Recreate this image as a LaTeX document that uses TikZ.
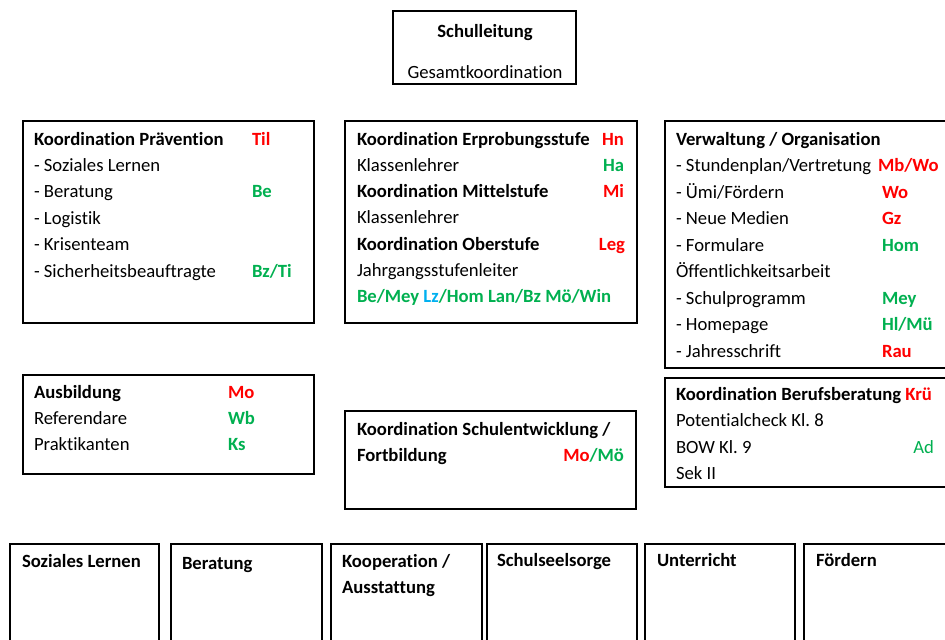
\documentclass[tikz,border=0pt]{standalone}
\usepackage{fontspec}
\setmainfont{Carlito}[Ligatures={NoCommon}]
\usetikzlibrary{fit}
\definecolor{kred}{HTML}{FF0000}
\definecolor{kgreen}{HTML}{00B050}
\definecolor{kblue}{HTML}{00B0F0}
\frenchspacing
\begin{document}
\frenchspacing
\begin{tikzpicture}[x=0.75pt,y=-0.75pt,
  box/.style={draw=black, line width=1.7pt, inner sep=0pt, outer sep=0pt},
  t/.style={anchor=base west, inner sep=0pt, outer sep=0pt, font=\fontsize{14}{17}\selectfont},
  tr/.style={anchor=base east, inner sep=0pt, outer sep=0pt, font=\fontsize{14}{17}\selectfont},
  tc/.style={anchor=base, inner sep=0pt, outer sep=0pt, font=\fontsize{14}{17}\selectfont},
  rd/.style={text=kred, font=\fontsize{14}{17}\selectfont\bfseries},
  gr/.style={text=kgreen, font=\fontsize{14}{17}\selectfont\bfseries}]
\fill[white] (0,0) rectangle (945,639);
\clip (0,0) rectangle (945,639);
% boxes
\node[box, fit={(393,11) (576,84)}] (sl) {};
\node[box, fit={(23,121) (314,323)}] (prae) {};
\node[box, fit={(345,121) (637,323)}] (erp) {};
\node[box, fit={(665,121) (960,368)}] (verw) {};
\node[box, fit={(23,375) (314,474)}] (ausb) {};
\node[box, fit={(345,411) (636,509)}] (sent) {};
\node[box, fit={(665,378) (960,487)}] (beruf) {};
\node[box, fit={(10,544) (159,660)}] (b1) {};
\node[box, fit={(171,544) (322,660)}] (b2) {};
\node[box, fit={(331,544) (482,660)}] (b3) {};
\node[box, fit={(487,544) (637,660)}] (b4) {};
\node[box, fit={(645,544) (795,660)}] (b5) {};
\node[box, fit={(804,544) (960,660)}] (b6) {};
% Schulleitung
\node[tc] (sl1) at (485,37) {\textbf{Schulleitung}};
\node[tc] (sl2) at (485,78) {Gesamtkoordination};
% Praevention
\node[t] (p1) at (34,145) {\textbf{Koordination Prävention}};
\node[t, rd] (p1r) at (252,145) {Til};
\node[t] (p2) at (34,171.4) {- Soziales Lernen};
\node[t] (p3) at (34,197.8) {- Beratung};
\node[t, gr] (p3r) at (252,197.8) {Be};
\node[t] (p4) at (34,224.2) {- Logistik};
\node[t] (p5) at (34,250.6) {- Krisenteam};
\node[t] (p6) at (34,277) {- Sicherheitsbeauftragte};
\node[t, gr] (p6r) at (252,277) {Bz/Ti};
% Erprobung
\node[t] (e1) at (357,145) {\textbf{Koordination Erprobungsstufe}};
\node[tr, rd] (e1r) at (624,145) {Hn};
\node[t] (e2) at (357,171.3) {Klassenlehrer};
\node[tr, gr] (e2r) at (624,171.3) {Ha};
\node[t] (e3) at (357,197.6) {\textbf{Koordination Mittelstufe}};
\node[tr, rd] (e3r) at (624,197.6) {Mi};
\node[t] (e4) at (357,223.9) {Klassenlehrer};
\node[t] (e5) at (357,250.2) {\textbf{Koordination Oberstufe}};
\node[tr, rd] (e5r) at (625,250.2) {Leg};
\node[t] (e6) at (357,276.5) {Jahrgangsstufenleiter};
\node[t, gr] (e7) at (357,302.8) {Be/Mey \textcolor{kblue}{Lz}/Hom Lan/Bz Mö/Win};
% Verwaltung
\node[t] (v1) at (676,145) {\textbf{Verwaltung / Organisation}};
\node[t] (v2) at (676,171.5) {- Stundenplan/Vertretung};
\node[t, rd] (v2r) at (878,171.5) {Mb/Wo};
\node[t] (v3) at (676,198) {- Ümi/Fördern};
\node[t, rd] (v3r) at (882,198) {Wo};
\node[t] (v4) at (676,224.5) {- Neue Medien};
\node[t, rd] (v4r) at (882,224.5) {Gz};
\node[t] (v5) at (676,251) {- Formulare};
\node[t, gr] (v5r) at (882,251) {Hom};
\node[t] (v6) at (676,277.5) {Öffentlichkeitsarbeit};
\node[t] (v7) at (676,304) {- Schulprogramm};
\node[t, gr] (v7r) at (882,304) {Mey};
\node[t] (v8) at (676,330.5) {- Homepage};
\node[t, gr] (v8r) at (882,330.5) {Hl/Mü};
\node[t] (v9) at (676,357) {- Jahresschrift};
\node[t, rd] (v9r) at (882,357) {Rau};
% Ausbildung
\node[t] (a1) at (34,398) {\textbf{Ausbildung}};
\node[t, rd] (a1r) at (228,398) {Mo};
\node[t] (a2) at (34,424) {Referendare};
\node[t, gr] (a2r) at (228,424) {Wb};
\node[t] (a3) at (34,450) {Praktikanten};
\node[t, gr] (a3r) at (228,450) {Ks};
% Schulentwicklung
\node[t] (s1) at (357,435) {\textbf{Koordination Schulentwicklung /}};
\node[t] (s2) at (357,461.5) {\textbf{Fortbildung}};
\node[tr, rd] (s2r) at (624,461.5) {Mo\textcolor{kgreen}{/Mö}};
% Berufsberatung
\node[t] (k1) at (676,400) {\textbf{Koordination Berufsberatung \textcolor{kred}{Krü}}};
\node[t] (k2) at (676,426.5) {Potentialcheck Kl. 8};
\node[t] (k3) at (676,453) {BOW Kl. 9};
\node[tr, text=kgreen] (k3r) at (934,453) {Ad};
\node[t] (k4) at (676,479.5) {Sek II};
% bottom row
\node[t] (bt1) at (22,567) {\textbf{Soziales Lernen}};
\node[t] (bt2) at (182,569) {\textbf{Beratung}};
\node[t] (bt3) at (342,567) {\textbf{Kooperation /}};
\node[t] (bt3b) at (342,593) {\textbf{Ausstattung}};
\node[t] (bt4) at (497,566) {\textbf{Schulseelsorge}};
\node[t] (bt5) at (657,566) {\textbf{Unterricht}};
\node[t] (bt6) at (816,566) {\textbf{Fördern}};
\end{tikzpicture}
\end{document}
